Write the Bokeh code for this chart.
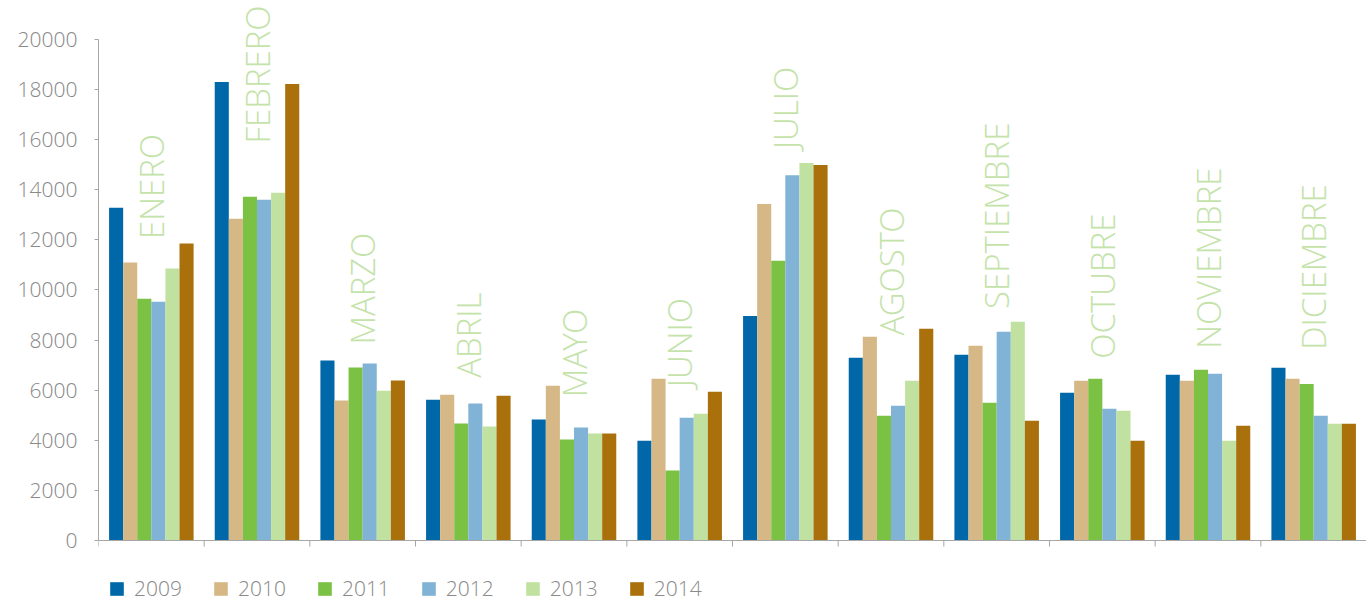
import math
from bokeh.plotting import figure
from bokeh.models import Range1d, FixedTicker, Legend, LegendItem, ColumnDataSource, Span
from bokeh.core.properties import value
from bokeh.embed import file_html
from bokeh.resources import INLINE

months = ["ENERO", "FEBRERO", "MARZO", "ABRIL", "MAYO", "JUNIO", "JULIO",
          "AGOSTO", "SEPTIEMBRE", "OCTUBRE", "NOVIEMBRE", "DICIEMBRE"]
years = ["2009", "2010", "2011", "2012", "2013", "2014"]
v2009 = [13280, 18300, 7180, 5620, 4830, 3980, 8960, 7290, 7410, 5900, 6610, 6890]
v2010 = [11090, 12840, 5590, 5820, 6180, 6450, 13430, 8130, 7770, 6370, 6370, 6450]
v2011 = [9650, 13720, 6900, 4670, 4030, 2790, 11160, 4980, 5500, 6450, 6810, 6250]
v2012 = [9530, 13600, 7060, 5470, 4510, 4900, 14580, 5380, 8330, 5260, 6650, 4980]
v2013 = [10850, 13880, 5980, 4550, 4270, 5060, 15060, 6370, 8730, 5180, 3980, 4660]
v2014 = [11850, 18220, 6380, 5780, 4270, 5940, 14980, 8450, 4780, 3980, 4580, 4660]
series = [v2009, v2010, v2011, v2012, v2013, v2014]
# value at which each rotated month label starts
label_base = [12030, 15840, 7820, 6490, 5720, 6120, 15620, 8180, 9240, 7250, 7650, 7610]
y_ticks = list(range(0, 20001, 2000))

colors = ["#0068a8", "#d6b887", "#7bc143", "#80b3d5", "#c0e1a0", "#a9700b"]
label_color = "#c4e3aa"
axis_color = "#a6a6a6"
tick_text_color = "#8a8a8a"
FONT = "Open Sans Light, Open Sans"

n = len(months)
group_pad = 0.1
bar_w = (1 - 2 * group_pad) / len(years)

W, H = 1366, 603
LEFT = 98
BASE_Y = 540            # pixel row of the zero line
PX_PER_UNIT = 25.06 / 1000
y_end = BASE_Y / PX_PER_UNIT
y_start = -(H - BASE_Y) / PX_PER_UNIT

p = figure(width=W, height=H, output_backend="svg", toolbar_location=None,
           x_range=Range1d(0, n), y_range=Range1d(y_start, y_end),
           min_border_left=LEFT, min_border_right=0, min_border_top=0,
           min_border_bottom=0)
p.outline_line_color = None
p.xgrid.visible = False
p.ygrid.visible = False
p.xaxis.visible = False
p.background_fill_color = "white"
p.border_fill_color = "white"

renderers = []
for j, (yr, vals) in enumerate(zip(years, series)):
    xs = [i + group_pad + (j + 0.5) * bar_w for i in range(n)]
    src = ColumnDataSource(dict(x=xs, top=vals))
    r = p.vbar(x="x", top="top", width=bar_w, bottom=0, source=src,
               fill_color=colors[j], line_color=None)
    renderers.append(r)

lsrc = ColumnDataSource(dict(x=[i + 0.5 for i in range(n)], y=label_base, t=months))
p.text(x="x", y="y", text="t", source=lsrc, angle=math.pi / 2,
       text_align="left", text_baseline="middle",
       text_font=value(FONT), text_font_size="33px", text_color=label_color)

# category axis line and boundary ticks
p.add_layout(Span(location=0, dimension="width", line_color=axis_color, line_width=1))
tick_len = 6 / PX_PER_UNIT
p.segment(x0=list(range(n + 1)), y0=[0] * (n + 1), x1=list(range(n + 1)),
          y1=[-tick_len] * (n + 1), line_color=axis_color, line_width=1)

# y axis
ya = p.yaxis[0]
ya.ticker = FixedTicker(ticks=y_ticks)
ya.bounds = (0, 20000)
ya.axis_line_color = axis_color
ya.major_tick_line_color = axis_color
ya.major_tick_out = 4
ya.major_tick_in = 0
ya.minor_tick_line_color = None
ya.major_label_standoff = 17
ya.major_label_text_font = FONT
ya.major_label_text_font_size = "21px"
ya.major_label_text_color = tick_text_color

legend = Legend(items=[LegendItem(label=yr, renderers=[r]) for yr, r in zip(years, renderers)],
                orientation="horizontal", location=(10, 1),
                glyph_width=17, glyph_height=17, label_standoff=9, spacing=30,
                label_text_font=FONT, label_text_font_size="21px",
                label_text_color=tick_text_color, border_line_color=None,
                background_fill_alpha=0, margin=0, padding=0)
p.add_layout(legend, "center")

open("out.html", "w").write(file_html(p, INLINE))
